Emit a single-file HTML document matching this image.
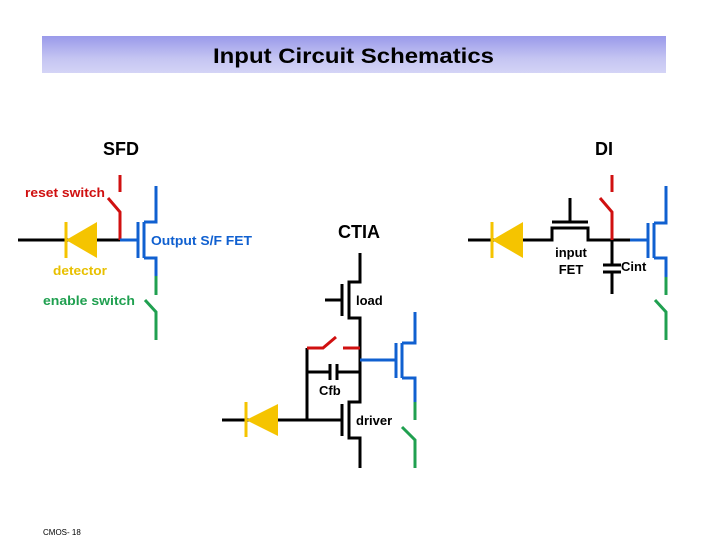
<!DOCTYPE html>
<html><head><style>
body{margin:0;background:#fff;width:720px;height:540px;overflow:hidden}
svg{display:block}
text{font-family:"Liberation Sans",sans-serif}
</style></head><body>
<svg width="720" height="540" viewBox="0 0 720 540">
<defs><linearGradient id="g" x1="0" y1="0" x2="0" y2="1">
<stop offset="0" stop-color="#9a9aea"/><stop offset="0.6" stop-color="#c4c4f2"/><stop offset="1" stop-color="#d4d4f6"/></linearGradient></defs>
<rect x="42" y="36" width="624" height="37" fill="url(#g)"/>
<text x="213" y="63" font-size="21" font-weight="bold" fill="#000" textLength="281" lengthAdjust="spacingAndGlyphs">Input Circuit Schematics</text>
<text x="103" y="155" font-size="18" font-weight="bold" fill="#000">SFD</text>
<text x="595" y="155" font-size="18" font-weight="bold" fill="#000">DI</text>
<text x="338" y="238" font-size="18" font-weight="bold" fill="#000">CTIA</text>

<g fill="none" stroke-width="3" stroke-linecap="butt">
<path d="M18 240H120" stroke="#000"/>
<path d="M66 222V258" stroke="#f5c400"/>
<polygon points="66,240 97,222 97,258" fill="#f5c400" stroke="none"/>
<path d="M120 240V212L108 198M120 175V192" stroke="#d01010"/>
<path d="M120 240H138M138 222V258M144 222V258M144 222H156V186M144 258H156V276" stroke="#1060d0"/>
<path d="M156 276V295M145 300L156 312V340" stroke="#20a050"/>

<path d="M360 253V282H349V318H360V402H349V438H360V468M342 284V316M325 300H342" stroke="#000"/>
<path d="M342 404V436M307 420H342M222 420H307M307 348V420M307 372H330M330 364V380M337 364V380M337 372H360" stroke="#000"/>
<path d="M246 402V437" stroke="#f5c400"/>
<polygon points="246,420 278,404 278,436" fill="#f5c400" stroke="none"/>
<path d="M307 348H323L336 337M343 348H360" stroke="#d01010"/>
<path d="M360 360H396M396 343V378M402 343V378M402 343H415V312M402 378H415V402" stroke="#1060d0"/>
<path d="M415 402V420M402 427L415 440V468" stroke="#20a050"/>

<path d="M468 240H552V228H588V240H630M552 222H588M570 198V222M612 240V265M612 272V294M603 265H621M603 272H621" stroke="#000"/>
<path d="M492 222V258" stroke="#f5c400"/>
<polygon points="492,240 523,222 523,258" fill="#f5c400" stroke="none"/>
<path d="M612 240V212L600 198M612 175V192" stroke="#d01010"/>
<path d="M630 240H648M648 223V258M654 223V258M654 223H666V186M654 258H666V277" stroke="#1060d0"/>
<path d="M666 277V295M655 300L666 312V340" stroke="#20a050"/>
</g>

<g font-size="13" font-weight="bold">
<text x="25" y="197" fill="#d01010" textLength="80" lengthAdjust="spacingAndGlyphs">reset switch</text>
<text x="151" y="245" fill="#1060d0" textLength="101" lengthAdjust="spacingAndGlyphs">Output S/F FET</text>
<text x="53" y="275" fill="#e8c000" textLength="54" lengthAdjust="spacingAndGlyphs">detector</text>
<text x="43" y="305" fill="#20a050" textLength="92" lengthAdjust="spacingAndGlyphs">enable switch</text>
<text x="356" y="305" fill="#000">load</text>
<text x="319" y="395" fill="#000">Cfb</text>
<text x="356" y="425" fill="#000">driver</text>
<text x="571" y="257" fill="#000" text-anchor="middle">input</text>
<text x="571" y="274" fill="#000" text-anchor="middle">FET</text>
<text x="621" y="271" fill="#000">Cint</text>
</g>
<text x="43" y="535" font-size="8" fill="#000">CMOS- 18</text>
</svg>
</body></html>
